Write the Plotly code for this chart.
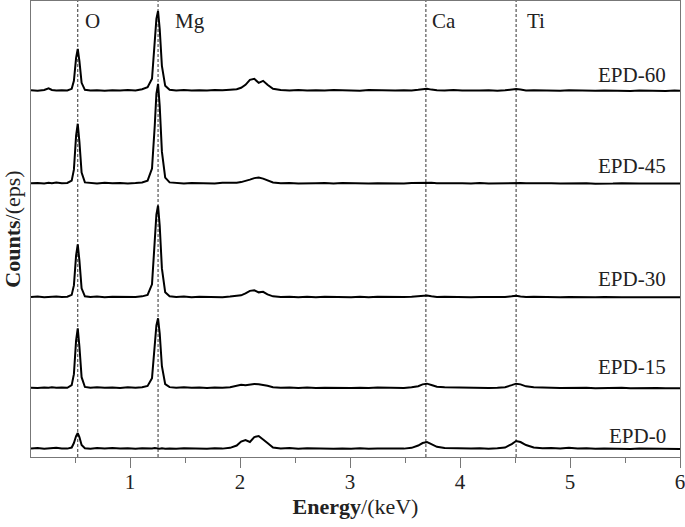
import plotly.graph_objects as go

# Energy grid (keV)
energy = [0.10, 0.16, 0.22, 0.26, 0.29, 0.33, 0.38, 0.43, 0.47, 0.49,
          0.51, 0.525, 0.54, 0.56, 0.59, 0.64, 0.70, 0.77, 0.84, 0.91,
          0.98, 1.05, 1.11, 1.16, 1.20, 1.225, 1.24, 1.255, 1.27, 1.29,
          1.32, 1.36, 1.42, 1.49, 1.56, 1.63, 1.70, 1.77, 1.84, 1.91,
          1.97, 2.01, 2.05, 2.09, 2.13, 2.17, 2.21, 2.25, 2.30, 2.37,
          2.45, 2.53, 2.61, 2.69, 2.77, 2.85, 2.93, 3.01, 3.09, 3.17,
          3.25, 3.33, 3.41, 3.49, 3.56, 3.62, 3.66, 3.70, 3.74, 3.79,
          3.86, 3.94, 4.02, 4.10, 4.18, 4.26, 4.34, 4.41, 4.47, 4.51,
          4.55, 4.60, 4.67, 4.75, 4.83, 4.91, 4.99, 5.07, 5.15, 5.23,
          5.31, 5.39, 5.47, 5.55, 5.63, 5.71, 5.79, 5.87, 5.95, 6.00]

epd_60 = [0.5, 0.0, 0.8, 2.5, 0.8, 0.2, 0.6, 0.3, 2.0, 10,
          33, 42, 30, 8, 1.0, 0.2, 0.6, 0.0, 0.5, 0.2,
          0.7, 0.3, 1.5, 3.5, 12, 45, 72, 80, 62, 25,
          5, 1.0, 0.4, 0.8, 0.2, 0.6, 0.3, 0.8, 0.5, 1.0,
          1.5, 3, 6, 11, 12, 8, 10, 6, 2, 0.8,
          0.4, 0.9, 0.3, 0.6, 0.2, 0.7, 0.4, 0.6, 0.1, 0.7,
          0.3, 0.5, 0.2, 0.6, 0.4, 1.0, 1.8, 2.0, 1.2, 0.5,
          0.3, 0.7, 0.2, 0.6, 0.3, 0.5, 0.1, 0.6, 1.2, 1.8,
          1.2, 0.4, 0.6, 0.2, 0.5, 0.1, 0.5, 0.2, 0.4, 0.0,
          0.4, 0.1, 0.3, -0.1, 0.3, 0.0, 0.2, -0.1, 0.2, 0.0]

epd_45 = [0.3, 0.7, 0.2, 0.8, 0.4, 1.0, 0.3, 0.6, 3, 14,
          48, 60, 42, 11, 1.2, 0.5, 0.2, 0.8, 0.3, 0.7,
          0.2, 0.6, 1.2, 3, 15, 58, 90, 100, 78, 32,
          6, 1.2, 0.5, 0.2, 0.7, 0.3, 0.6, 0.2, 0.8, 0.5,
          0.9, 1.5, 2.5, 4, 5.5, 6, 5, 3, 1.2, 0.4,
          0.7, 0.2, 0.6, 0.3, 0.5, 0.1, 0.6, 0.2, 0.5, 0.0,
          0.4, 0.2, 0.6, 0.1, 0.5, 0.6, 1.0, 1.2, 0.8, 0.3,
          0.5, 0.1, 0.4, 0.2, 0.5, 0.0, 0.4, 0.2, 0.8, 1.2,
          0.7, 0.3, 0.5, 0.1, 0.4, 0.0, 0.3, 0.1, 0.4, -0.1,
          0.3, 0.0, 0.3, -0.1, 0.2, 0.0, 0.2, -0.2, 0.1, 0.0]

epd_30 = [0.4, 0.8, 0.2, 0.6, 0.3, 0.9, 0.4, 0.7, 2.5, 12,
          42, 53, 37, 9, 1.0, 0.3, 0.8, 0.2, 0.6, 0.4,
          0.9, 0.3, 1.0, 2.5, 13, 53, 83, 92, 72, 29,
          5, 1.0, 0.3, 0.8, 0.2, 0.7, 0.3, 0.6, 0.2, 0.8,
          1.2, 2, 4, 6.5, 7, 5, 5.5, 3, 1.0, 0.3,
          0.7, 0.2, 0.5, 0.1, 0.6, 0.3, 0.7, 0.2, 0.5, 0.0,
          0.5, 0.2, 0.6, 0.3, 0.6, 0.8, 1.5, 1.8, 1.0, 0.4,
          0.6, 0.2, 0.5, 0.1, 0.4, 0.2, 0.5, 0.3, 1.0, 1.6,
          0.9, 0.3, 0.5, 0.1, 0.4, 0.0, 0.4, 0.1, 0.3, 0.0,
          0.3, -0.1, 0.2, 0.0, 0.3, -0.1, 0.2, 0.0, 0.1, 0.0]

epd_15 = [0.5, 0.2, 0.7, 0.3, 0.8, 0.3, 0.6, 0.4, 3, 14,
          48, 60, 42, 11, 1.2, 0.4, 0.9, 0.3, 0.7, 0.2,
          0.8, 0.4, 1.0, 2.2, 10, 40, 63, 70, 55, 22,
          4, 1.0, 0.4, 0.9, 0.3, 0.7, 0.2, 0.6, 0.4, 1.0,
          2.5, 3.5, 3.0, 3.8, 4.2, 4.0, 3.5, 2.5, 1.0, 0.3,
          0.7, 0.2, 0.6, 0.1, 0.5, 0.3, 0.7, 0.2, 0.5, 0.1,
          0.6, 0.3, 0.5, 0.2, 0.8, 2.0, 3.8, 4.5, 3.2, 1.5,
          0.8, 0.6, 0.9, 0.3, 0.6, 0.2, 0.5, 1.0, 3.0, 4.5,
          3.8, 1.8, 0.8, 0.3, 0.5, 0.2, 0.4, 0.1, 0.4, 0.0,
          0.3, 0.1, 0.3, -0.1, 0.2, 0.0, 0.2, -0.1, 0.1, 0.0]

epd_0 = [0.4, 0.9, 0.3, 0.7, 0.5, 1.2, 0.6, 0.4, 1.5, 6,
         13, 16, 12, 4, 0.8, 0.3, 0.9, 0.4, 1.0, 0.5,
         0.8, 0.3, 0.7, 0.3, 0.6, 0.9, 0.5, 0.7, 0.4, 0.8,
         0.3, 0.6, 0.2, 0.8, 0.4, 0.6, 0.3, 0.7, 0.4, 1.2,
         3.5, 7.5, 9, 7, 12, 13, 9, 6, 1.5, 0.5,
         0.9, 0.3, 0.7, 0.4, 0.8, 0.2, 0.6, 0.3, 0.8, 0.2,
         0.6, 0.3, 0.7, 0.4, 1.2, 3.5, 6, 7, 5, 2.2,
         1.0, 0.6, 0.9, 0.4, 0.8, 0.3, 0.7, 1.5, 5, 8,
         7, 4, 1.5, 0.7, 0.9, 0.5, 1.2, 0.4, 0.7, 0.2,
         0.6, 0.3, 0.5, 0.1, 0.4, 0.2, 0.3, 0.0, 0.2, 0.1]

series_names = ["EPD-0", "EPD-15", "EPD-30", "EPD-45", "EPD-60"]
series_values = [epd_0, epd_15, epd_30, epd_45, epd_60]
stack_offsets = [8, 69, 160, 274, 367]
label_y = [21, 90, 178, 292, 383]

elements = ["O", "Mg", "Ca", "Ti"]
element_energy = [0.525, 1.255, 3.69, 4.51]
element_label_x = [0.655, 1.545, 3.85, 4.69]

x_tick_vals = [1, 2, 3, 4, 5, 6]
x_minor_vals = [0.5, 1.5, 2.5, 3.5, 4.5, 5.5]

FONT = "Liberation Serif, Times New Roman, serif"

fig = go.Figure()

for name, vals, off in zip(series_names, series_values, stack_offsets):
    fig.add_trace(go.Scatter(
        x=energy, y=[v + off for v in vals], mode="lines",
        line=dict(color="black", width=2), name=name, showlegend=False,
        hoverinfo="skip",
    ))

for e in element_energy:
    fig.add_shape(type="line", x0=e, x1=e, y0=0, y1=1, yref="paper", xref="x",
                  line=dict(color="#333333", width=1, dash="3px,2px"), layer="below")

for el, lx in zip(elements, element_label_x):
    fig.add_annotation(x=lx, y=437, text=el, showarrow=False,
                       font=dict(family=FONT, size=21, color="#222222"),
                       xanchor="center", yanchor="middle")

for name, ly in zip(series_names, label_y):
    fig.add_annotation(x=5.89, y=ly, text=name, showarrow=False,
                       font=dict(family=FONT, size=21, color="#222222"),
                       xanchor="right", yanchor="middle")

fig.update_layout(
    width=685, height=527,
    margin=dict(l=31, r=5, t=1, b=70),
    paper_bgcolor="white", plot_bgcolor="white",
    font=dict(family=FONT, size=20, color="#222222"),
    xaxis=dict(
        range=[0.1, 6.0], tickvals=x_tick_vals,
        ticks="outside", ticklen=10, tickwidth=1, tickcolor="#777777",
        ticklabelstandoff=-4, ticklabeloverflow="allow",
        showline=True, linecolor="#777777", linewidth=1, mirror=True,
        showgrid=False, zeroline=False, automargin=False,
        tickfont=dict(family=FONT, size=21, color="#222222"),
        minor=dict(tickvals=x_minor_vals, ticks="outside",
                   ticklen=5, tickcolor="#777777", showgrid=False),
        title=dict(text="<b>Energy</b>/(keV)", standoff=0,
                   font=dict(family=FONT, size=22, color="#222222")),
    ),
    yaxis=dict(
        range=[0, 457], showticklabels=False, ticks="",
        showline=True, linecolor="#777777", linewidth=1, mirror=True,
        showgrid=False, zeroline=False, automargin=False,
        title=dict(text="<b>Counts</b>/(eps)", standoff=4,
                   font=dict(family=FONT, size=22, color="#222222")),
    ),
)

fig.write_html("out.html", config={"displayModeBar": False},
               post_script="document.body.style.margin='0';")
